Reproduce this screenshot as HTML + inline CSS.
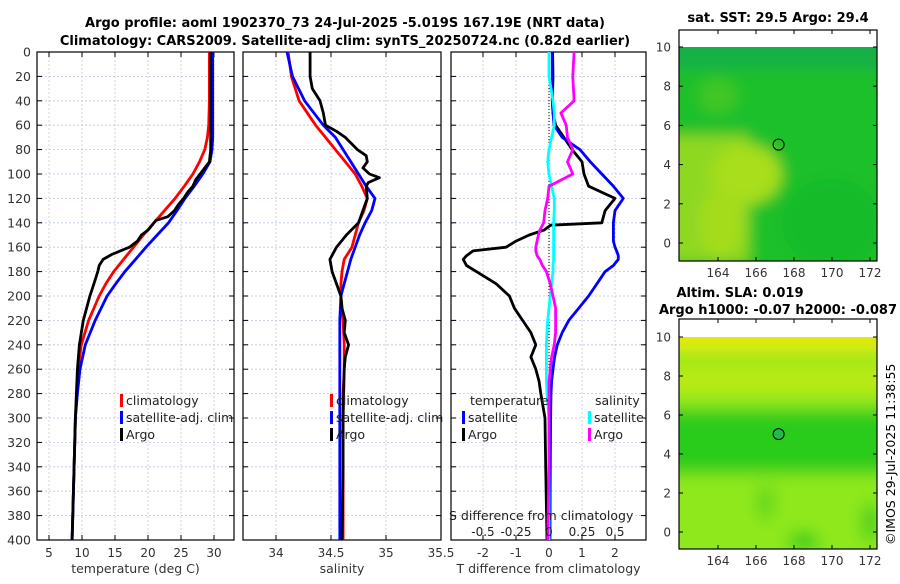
<!DOCTYPE html>
<html><head><meta charset="utf-8">
<style>
html,body{margin:0;padding:0;background:#fff;}
body{width:900px;height:580px;overflow:hidden;position:relative;font-family:"DejaVu Sans","Liberation Sans",sans-serif;}
svg text{font-family:"DejaVu Sans","Liberation Sans",sans-serif;}
</style></head>
<body>
<svg id="fig" width="900" height="580" viewBox="0 0 900 580" xmlns="http://www.w3.org/2000/svg">
  <text x="345" y="27" text-anchor="middle" font-size="13" font-weight="bold">Argo profile: aoml 1902370_73 24-Jul-2025 -5.019S 167.19E (NRT data)</text>
  <text x="345" y="45" text-anchor="middle" font-size="13" font-weight="bold">Climatology: CARS2009. Satellite-adj clim: synTS_20250724.nc (0.82d earlier)</text>
  <g id="p1"></g>
  <g id="p2"></g>
  <g id="p3"></g>
  <g id="m1"></g>
  <g id="m2"></g>
  <text x="778" y="22" text-anchor="middle" font-size="13" font-weight="bold">sat. SST: 29.5 Argo: 29.4</text>
  <text x="740" y="297" text-anchor="middle" font-size="13" font-weight="bold">Altim. SLA: 0.019</text>
  <text x="778" y="314" text-anchor="middle" font-size="13" font-weight="bold">Argo h1000: -0.07 h2000: -0.087</text>
  <text transform="translate(895,545) rotate(-90)" font-size="12.5">©IMOS 29-Jul-2025 11:38:55</text>
</svg>
<script>
// ---- data ----
const depthTicks=[0,20,40,60,80,100,120,140,160,180,200,220,240,260,280,300,320,340,360,380,400];
const tTicks=[5,10,15,20,25,30];
const sTicks=[34,34.5,35,35.5];
const sTickLabels=["34","34.5","35","35.5"];
const dTicks=[-2,-1,0,1,2];
const sdTicks=[-0.5,-0.25,0,0.25,0.5];
const sdTickLabels=["-0.5","-0.25","0","0.25","0.5"];

const climDepth=[0,20,40,60,70,80,90,100,110,120,130,140,150,160,170,180,190,200,220,240,260,280,300,340,400];
const climTemp=[29.3,29.3,29.3,29.2,29.0,28.6,27.8,26.8,25.5,24.1,22.5,20.9,19.3,17.8,16.3,14.8,13.6,12.6,11.0,9.9,9.4,9.2,9.0,8.8,8.5];
const satTemp=[29.8,29.8,29.8,29.8,29.8,29.7,29.4,28.3,27.0,25.6,24.4,23.1,21.4,19.7,18.1,16.5,15.1,13.8,12.0,10.5,9.7,9.3,9.0,8.8,8.5];
const argoTDepth=[0,20,40,60,80,90,95,100,105,110,115,120,125,130,135,138,142,146,150,155,160,163,166,170,175,180,190,200,220,240,260,300,340,400];
const argoTemp=[29.5,29.5,29.5,29.5,29.5,29.3,28.6,27.9,27.2,26.8,26.0,25.4,24.6,24.0,23.0,21.2,20.6,20.0,19.0,18.4,17.2,15.8,14.5,13.2,12.6,12.4,11.8,11.2,10.2,9.6,9.3,9.0,8.8,8.5];

const climSal=[34.11,34.14,34.21,34.36,34.45,34.54,34.63,34.72,34.78,34.83,34.8,34.75,34.72,34.69,34.62,34.6,34.59,34.59,34.61,34.62,34.62,34.61,34.61,34.61,34.61];
const satSal=[34.1,34.15,34.26,34.43,34.54,34.61,34.68,34.75,34.82,34.9,34.87,34.81,34.76,34.72,34.68,34.65,34.62,34.59,34.58,34.58,34.58,34.58,34.58,34.58,34.58];
const argoSDepth=[0,20,30,40,50,60,65,70,80,85,90,95,100,103,107,110,120,140,150,160,170,180,200,210,220,230,240,250,260,300,340,400];
const argoSal=[34.31,34.31,34.33,34.4,34.43,34.45,34.55,34.63,34.74,34.82,34.83,34.79,34.85,34.94,34.84,34.82,34.83,34.75,34.64,34.55,34.49,34.51,34.59,34.6,34.63,34.62,34.66,34.63,34.62,34.61,34.61,34.6];

const diffDepth=[0,20,40,50,60,70,80,90,100,110,120,130,140,142,146,150,155,160,163,167,170,175,180,190,200,210,220,230,240,250,260,270,280,300,340,400];
const argoTDiff=[0.11,0.12,0.1,0.12,0.2,0.45,0.7,1.0,1.06,1.2,2.0,1.7,1.6,0.05,-0.15,-0.6,-1.0,-1.3,-2.3,-2.5,-2.6,-2.5,-2.2,-1.6,-1.2,-1.05,-0.8,-0.55,-0.4,-0.55,-0.4,-0.3,-0.25,-0.12,-0.1,-0.06];
const satTDiff=[0.1,0.1,0.1,0.12,0.15,0.4,0.94,1.25,1.6,1.95,2.25,2.0,1.95,1.95,1.95,1.95,1.95,2.0,2.05,2.1,2.1,1.95,1.7,1.45,1.2,0.9,0.6,0.4,0.25,0.17,0.12,0.08,0.06,0.05,0.04,0.03];
const argoSDiff=[0.19,0.18,0.19,0.09,0.13,0.14,0.18,0.14,0.18,0.0,-0.01,-0.03,-0.04,-0.05,-0.07,-0.08,-0.09,-0.1,-0.1,-0.09,-0.07,-0.05,-0.02,0.01,0.03,0.05,0.05,0.05,0.04,0.02,0.01,0.0,0.0,0.0,0.0,-0.01];
const satSDiff=[0.0,0.0,0.03,0.04,0.04,0.02,0.0,-0.01,0.0,0.02,0.04,0.04,0.035,0.035,0.035,0.035,0.035,0.035,0.035,0.035,0.035,0.03,0.03,0.02,0.01,0.0,-0.01,-0.015,-0.02,-0.02,-0.02,-0.02,-0.015,0.0,0.0,0.0];

// map axes
const mapLonTicks=[164,166,168,170,172];
const mapLatTicks=[0,2,4,6,8,10];
const argoLon=[167.19];
const argoLat=[5.02];

// ---- helpers ----
const NS="http://www.w3.org/2000/svg";
function mk(tag,attrs,parent){const e=document.createElementNS(NS,tag);for(const k in attrs)e.setAttribute(k,attrs[k]);parent.appendChild(e);return e;}
const TOP=52,BOT=540;
const yD=d=>TOP+(BOT-TOP)*d/400;
function panel(g,L,R,xf,ticks,labels,xlabel,name){
  for(const d of depthTicks){
    const gl=mk('line',{x1:L,x2:R,y1:yD(d),y2:yD(d),stroke:'#b8c4ec','stroke-width':0.8,'stroke-dasharray':'2,2'},g);
    
    mk('line',{x1:L,x2:L+5,y1:yD(d),y2:yD(d),stroke:'#000'},g);
    mk('line',{x1:R-5,x2:R,y1:yD(d),y2:yD(d),stroke:'#000'},g);
  }
  ticks.forEach((t,i)=>{
    const x=xf(t);
    const gl=mk('line',{x1:x,x2:x,y1:TOP,y2:BOT,stroke:'#d8c0c8','stroke-width':0.8,'stroke-dasharray':'2,2'},g);
    
    mk('line',{x1:x,x2:x,y1:BOT-5,y2:BOT,stroke:'#000'},g);
    mk('line',{x1:x,x2:x,y1:TOP,y2:TOP+5,stroke:'#000'},g);
    const tl=mk('text',{x:x,y:557,'text-anchor':'middle','font-size':12,fill:'#333'},g);
    tl.textContent=labels?labels[i]:String(t);
    
  });
  const xl=mk('text',{x:(L+R)/2,y:573,'text-anchor':'middle','font-size':12.5,fill:'#333'},g);
  xl.textContent=xlabel;
  
  const fr=mk('rect',{x:L,y:TOP,width:R-L,height:BOT-TOP,fill:'none',stroke:'#000','stroke-width':1.2},g);
  
}
function line(g,xs,ds,xf,color,name,w){
  const pts=xs.map((v,i)=>xf(v).toFixed(1)+','+yD(ds[i]).toFixed(1)).join(' ');
  const p=mk('polyline',{points:pts,fill:'none',stroke:color,'stroke-width':w||2.8,'stroke-linejoin':'round'},g);
  
}
function legend(g,x,y,color,label,name){
  mk('rect',{x:x,y:y-10,width:3,height:13,fill:color},g);
  const t=mk('text',{x:x+6,y:y+1,'font-size':12.5,fill:'#222'},g);
  t.textContent=label;
  
}

// ---- panel 1 temperature ----
const p1=document.getElementById('p1');
const xT=t=>16+6.6*t;
panel(p1,37,234,xT,tTicks,null,'temperature (deg C)','temperature');
for(const d of depthTicks){const t=mk('text',{x:31,y:yD(d)+4.5,'text-anchor':'end','font-size':12.5,fill:'#333'},p1);t.textContent=d;
}
line(p1,climTemp,climDepth,xT,'#f00','climatology-temperature-line');
line(p1,satTemp,climDepth,xT,'#00f','satellite-temperature-line');
line(p1,argoTemp,argoTDepth,xT,'#000','argo-temperature-line');
legend(p1,120,404,'#f00','climatology','legend-climatology');
legend(p1,120,421,'#00f','satellite-adj. clim','legend-satellite');
legend(p1,120,438,'#000','Argo','legend-argo');

// ---- panel 2 salinity ----
const p2=document.getElementById('p2');
const xS=s=>276+110*(s-34);
panel(p2,243,441,xS,sTicks,sTickLabels,'salinity','salinity');
line(p2,climSal,climDepth,xS,'#f00','climatology-salinity-line');
line(p2,satSal,climDepth,xS,'#00f','satellite-salinity-line');
line(p2,argoSal,argoSDepth,xS,'#000','argo-salinity-line');
legend(p2,330,404,'#f00','climatology','legend-climatology-sal');
legend(p2,330,421,'#00f','satellite-adj. clim','legend-satellite-sal');
legend(p2,330,438,'#000','Argo','legend-argo-sal');

// ---- panel 3 differences ----
const p3=document.getElementById('p3');
const xDT=v=>549+33*v;
const xDS=v=>549+132*v;
panel(p3,451,646,xDT,dTicks,null,'T difference from climatology','difference');
const zl=mk('line',{x1:549,x2:549,y1:TOP,y2:BOT,stroke:'#000','stroke-width':1,'stroke-dasharray':'1,2'},p3);

line(p3,argoTDiff,diffDepth,xDT,'#000','argo-temperature-diff-line');
line(p3,satTDiff,diffDepth,xDT,'#00f','satellite-temperature-diff-line');
line(p3,satSDiff,diffDepth,xDS,'#0ff','satellite-salinity-diff-line');
line(p3,argoSDiff,diffDepth,xDS,'#f0f','argo-salinity-diff-line');
{const t=mk('text',{x:449,y:520,'font-size':12.5,fill:'#222'},p3);t.textContent='S difference from climatology';
}
sdTicks.forEach((v,i)=>{const t=mk('text',{x:xDS(v),y:536,'text-anchor':'middle','font-size':12,fill:'#222'},p3);t.textContent=sdTickLabels[i];
});
{const t=mk('text',{x:470,y:405,'font-size':12.5,fill:'#222'},p3);t.textContent='temperature';
}
{const t=mk('text',{x:595,y:405,'font-size':12.5,fill:'#222'},p3);t.textContent='salinity';
}
legend(p3,462,421,'#00f','satellite','legend-t-satellite');
legend(p3,462,438,'#000','Argo','legend-t-argo');
legend(p3,588,421,'#0ff','satellite','legend-s-satellite');
legend(p3,588,438,'#f0f','Argo','legend-s-argo');

// ---- maps ----
function map(g,top,bot,lat10,lat0,kind,name){
  const L=679,R=877;
  const xLon=lon=>718+19*(lon-164);
  const yLat=lat=>lat0+(lat10-lat0)*lat/10;
  const id='clip'+kind;
  const defs=mk('defs',{},g);
  const cp=mk('clipPath',{id:id},defs);mk('rect',{x:L,y:lat10,width:R-L,height:bot-lat10},cp);
  const f=mk('filter',{id:'blur'+kind,x:'-50%',y:'-50%',width:'200%',height:'200%'},defs);
  mk('feGaussianBlur',{stdDeviation:kind==='sst'?7:8},f);
  const cg=mk('g',{'clip-path':'url(#'+id+')'},g);
  const bg=mk('g',{filter:'url(#blur'+kind+')'},cg);
  if(kind==='sst'){
    mk('rect',{x:L-40,y:lat10-40,width:R-L+80,height:bot-lat10+80,fill:'#1cc02a'},bg);
    mk('rect',{x:L-40,y:lat10-30,width:R-L+80,height:52,fill:'#16b046'},bg);
    mk('rect',{x:L-30,y:yLat(5.5),width:100,height:yLat(-1)-yLat(5.5),fill:'#8fd822'},bg);
    mk('ellipse',{cx:xLon(165.5),cy:yLat(3.5),rx:35,ry:30,fill:'#a8de1c'},bg);
    mk('ellipse',{cx:xLon(164.2),cy:yLat(1),rx:22,ry:35,fill:'#a4dc1e'},bg);
    mk('ellipse',{cx:xLon(170),cy:yLat(1),rx:50,ry:45,fill:'#14bb2a'},bg);
    mk('ellipse',{cx:xLon(164),cy:yLat(7.5),rx:20,ry:18,fill:'#40c628'},bg);
  } else {
    mk('rect',{x:L-40,y:lat10-40,width:R-L+80,height:bot-lat10+80,fill:'#8ee81c'},bg);
    mk('rect',{x:L-40,y:lat10-30,width:R-L+80,height:45,fill:'#e2ea10'},bg);
    mk('rect',{x:L-40,y:yLat(8.6),width:R-L+80,height:30,fill:'#b8ea14'},bg);
    mk('rect',{x:L-40,y:yLat(6.3),width:R-L+80,height:yLat(3)-yLat(6.3),fill:'#2ccc1c'},bg);
    mk('ellipse',{cx:xLon(168.5),cy:yLat(-0.5),rx:15,ry:10,fill:'#30cc1c'},bg);
    mk('ellipse',{cx:xLon(172),cy:yLat(0.5),rx:8,ry:20,fill:'#3ccc1c'},bg);
    mk('ellipse',{cx:xLon(166.5),cy:yLat(1.5),rx:8,ry:18,fill:'#5ad41c'},bg);
  }
  // white above lat 10
  mk('rect',{x:L,y:top,width:R-L,height:lat10-top,fill:'#fff'},g);
  argoLon.forEach((lon,i)=>{
    const c=mk('circle',{cx:xLon(lon),cy:yLat(argoLat[i]),r:5.5,fill:kind==='sst'?'none':'#22b84a',stroke:'#000','stroke-width':1},g);
    
  });
  const fr=mk('rect',{x:L,y:top,width:R-L,height:bot-top,fill:'none',stroke:'#000','stroke-width':1.2},g);
  
  mapLatTicks.forEach(lat=>{
    const y=yLat(lat);
    mk('line',{x1:L,x2:L+4,y1:y,y2:y,stroke:'#000'},g);mk('line',{x1:R-4,x2:R,y1:y,y2:y,stroke:'#000'},g);
    const t=mk('text',{x:L-8,y:y+4.5,'text-anchor':'end','font-size':12,fill:'#333'},g);t.textContent=lat;
    
  });
  mapLonTicks.forEach(lon=>{
    const x=xLon(lon);
    mk('line',{x1:x,x2:x,y1:bot-4,y2:bot,stroke:'#000'},g);mk('line',{x1:x,x2:x,y1:top,y2:top+4,stroke:'#000'},g);
    const t=mk('text',{x:x,y:bot+16,'text-anchor':'middle','font-size':12,fill:'#333'},g);t.textContent=lon;
    
  });
}
map(document.getElementById('m1'),30,261,47,243,'sst','sst-map');
map(document.getElementById('m2'),319,549,337,532,'sla','sla-map');
</script>
</body></html>
